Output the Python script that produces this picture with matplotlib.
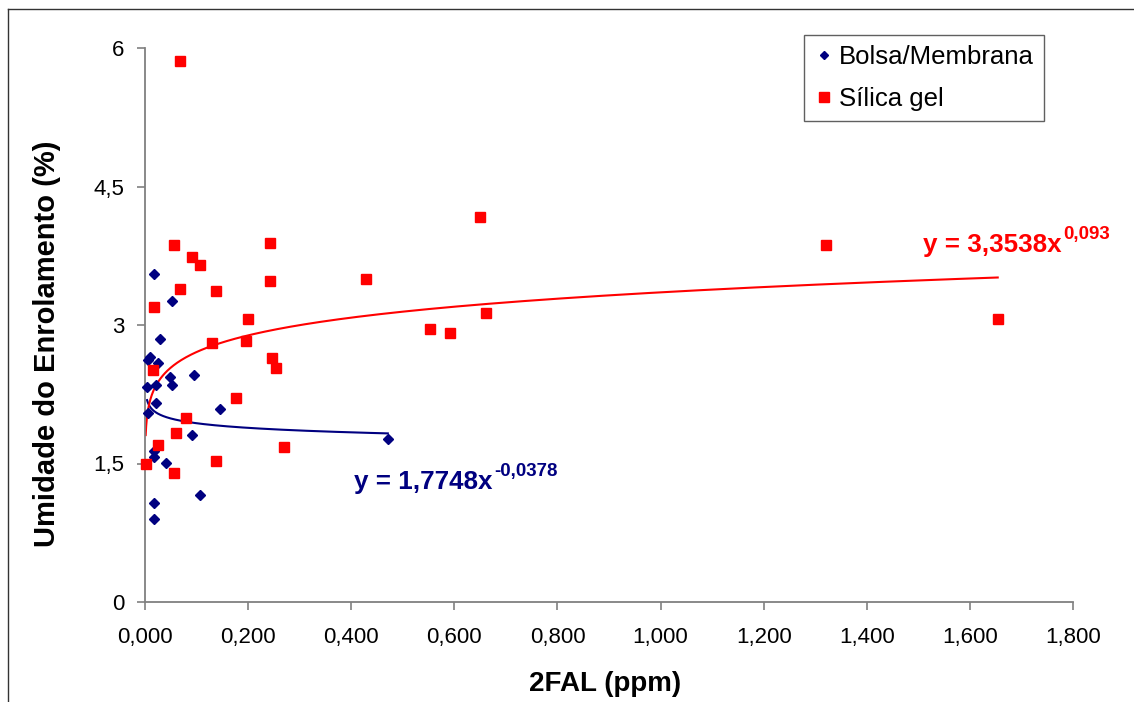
import matplotlib
matplotlib.use("Agg")
import matplotlib.pyplot as plt
import numpy as np
from matplotlib.ticker import FixedLocator, FuncFormatter
from matplotlib.lines import Line2D

plt.rcParams['font.family'] = ['Liberation Sans', 'DejaVu Sans']

# ---- data ----
bolsa_x = [0.017, 0.052, 0.0285, 0.005, 0.010, 0.025, 0.048, 0.095, 0.004, 0.021,
           0.052, 0.0213, 0.0058, 0.145, 0.0906, 0.018, 0.017, 0.040, 0.106, 0.017,
           0.017, 0.471]
bolsa_y = [3.55, 3.26, 2.85, 2.62, 2.65, 2.59, 2.44, 2.46, 2.33, 2.35,
           2.35, 2.16, 2.05, 2.09, 1.81, 1.64, 1.57, 1.51, 1.16, 1.07,
           0.90, 1.76]

silica_x = [0.068, 0.0557, 0.242, 0.0906, 0.106, 0.242, 0.067, 0.137, 0.017, 0.199,
            0.129, 0.195, 0.246, 0.254, 0.015, 0.176, 0.079, 0.0595, 0.0246, 0.269,
            0.0013, 0.137, 0.0557, 0.429, 0.552, 0.591, 0.650, 0.661, 1.320, 1.654]
silica_y = [5.86, 3.87, 3.89, 3.74, 3.65, 3.48, 3.39, 3.37, 3.20, 3.07,
            2.81, 2.83, 2.64, 2.53, 2.51, 2.21, 1.99, 1.83, 1.70, 1.68,
            1.49, 1.53, 1.40, 3.50, 2.96, 2.91, 4.17, 3.13, 3.87, 3.07]

# power trendline coefficients (as printed on the chart)
bolsa_a, bolsa_b = 1.7748, -0.0378
silica_a, silica_b = 3.3538, 0.093

series_labels = ['Bolsa/Membrana', 'Sílica gel']
x_ticks = [0.0, 0.2, 0.4, 0.6, 0.8, 1.0, 1.2, 1.4, 1.6, 1.8]
y_ticks = [0, 1.5, 3, 4.5, 6]

BLUE = '#000080'
RED = '#FF0000'

W, H = 1134, 702
fig = plt.figure(figsize=(W / 100, H / 100), dpi=100)
ax = fig.add_axes([145 / W, 1 - 602 / H, (1073 - 145) / W, (602 - 48) / H])

# trendlines
xb = np.geomspace(min(bolsa_x), max(bolsa_x), 200)
ax.plot(xb, bolsa_a * xb ** bolsa_b, color=BLUE, lw=1.5, zorder=2)
xs = np.geomspace(min(silica_x), max(silica_x), 300)
ax.plot(xs, silica_a * xs ** silica_b, color=RED, lw=1.5, zorder=2)

# scatter
ax.plot(bolsa_x, bolsa_y, linestyle='none', marker='D', ms=5.5, color=BLUE,
        mec=BLUE, zorder=3, clip_on=False)
ax.plot(silica_x, silica_y, linestyle='none', marker='s', ms=7.2, color=RED,
        mec=RED, zorder=3, clip_on=False)

ax.set_xlim(0, 1.8)
ax.set_ylim(0, 6)
ax.xaxis.set_major_locator(FixedLocator(x_ticks))
ax.yaxis.set_major_locator(FixedLocator(y_ticks))
ax.xaxis.set_major_formatter(FuncFormatter(lambda v, p: f"{v:.3f}".replace('.', ',')))
ax.yaxis.set_major_formatter(FuncFormatter(lambda v, p: (f"{v:g}").replace('.', ',')))

for s in ['top', 'right']:
    ax.spines[s].set_visible(False)
for s in ['left', 'bottom']:
    ax.spines[s].set_color('#808080')
    ax.spines[s].set_linewidth(1.3)
ax.tick_params(axis='both', direction='out', length=6, width=1.2, color='#808080',
               labelsize=16, labelcolor='black')
ax.tick_params(axis='x', pad=12)
ax.tick_params(axis='y', pad=9)

fig.text(605 / W, 1 - 684 / H, '2FAL (ppm)', fontsize=20, fontweight='bold',
         ha='center', va='center')
fig.text(47 / W, 1 - 344 / H, 'Umidade do Enrolamento (%)', fontsize=21,
         fontweight='bold', ha='center', va='center', rotation=90)

# equations
t1 = ax.text(0.4054, 1.224, 'y = 1,7748x', color=BLUE, fontsize=18.7,
             fontweight='bold', va='baseline', ha='left')
ax.annotate('-0,0378', xy=(1, 1.224), xycoords=(t1, 'data'), xytext=(1, 9),
            textcoords='offset points', color=BLUE, fontsize=13.5,
            fontweight='bold', va='baseline', ha='left')
t2 = ax.text(1.509, 3.794, 'y = 3,3538x', color=RED, fontsize=18.7,
             fontweight='bold', va='baseline', ha='left')
ax.annotate('0,093', xy=(1, 3.794), xycoords=(t2, 'data'), xytext=(1, 9),
            textcoords='offset points', color=RED, fontsize=13.5,
            fontweight='bold', va='baseline', ha='left')

# legend
handles = [Line2D([], [], linestyle='none', marker='D', ms=4.3, color=BLUE),
           Line2D([], [], linestyle='none', marker='s', ms=7.2, color=RED)]
leg = fig.legend(handles, series_labels, loc='upper right',
                 bbox_to_anchor=(1044 / W, 1 - 35 / H), bbox_transform=fig.transFigure,
                 fontsize=18.5, frameon=True, fancybox=False, framealpha=1,
                 edgecolor='#606060', borderpad=0.4, handlelength=0.72,
                 handletextpad=0.22, labelspacing=0.68, borderaxespad=0)
leg.get_frame().set_linewidth(1.0)

# figure border (left and top visible)
fig.add_artist(Line2D([8 / W, 8 / W], [0, 1 - 9 / H], transform=fig.transFigure,
                      color='#333333', lw=1.0))
fig.add_artist(Line2D([8 / W, 1], [1 - 9 / H, 1 - 9 / H], transform=fig.transFigure,
                      color='#333333', lw=1.0))

fig.savefig('out.png', dpi=100)
